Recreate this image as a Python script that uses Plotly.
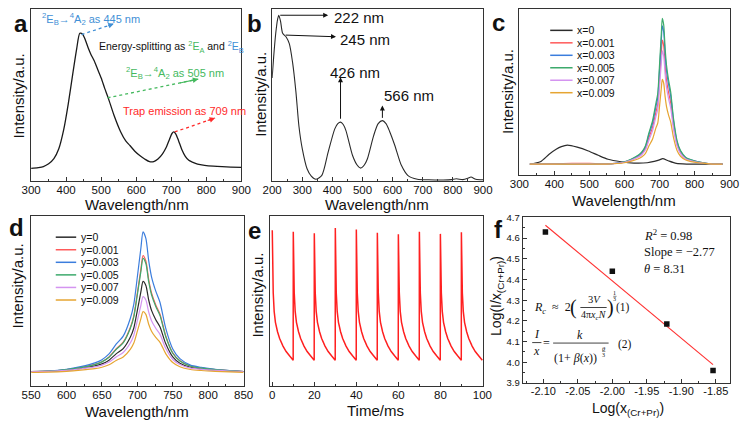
import plotly.graph_objects as go

W, H = 750, 426

# ---------------- data ----------------
# (a) emission spectrum
a_wavelength = [300, 320, 335, 350, 365, 379, 393, 406, 420, 430, 439, 447, 455, 463, 471, 480, 490, 500, 510, 520,
                536, 555, 570, 582, 596, 610, 624, 638, 650, 662, 675, 685, 695, 702, 707, 713, 721, 730, 740, 750,
                760, 775, 795, 820, 845, 870, 900]
a_intensity = [7.5, 8.0, 8.6, 10.2, 13.2, 18.9, 30, 45, 64, 77, 86, 85.5, 82, 77.5, 73.6, 70, 65, 60, 54, 48.5,
               38.7, 29, 23.5, 20.8, 17.5, 15, 13, 11.4, 11.5, 13, 16, 19.5, 24.5, 27.8, 28.7, 27.5, 23.5, 18.5, 14.5, 12.2,
               11.2, 10.0, 9.3, 8.8, 8.5, 8.3, 8.1]

# (b) excitation spectrum
b_wavelength = [200, 205, 212, 218, 222, 228, 235, 246, 257, 268, 279, 289, 300, 316, 330, 345, 365, 386, 408, 418,
                427, 436, 445, 467, 482, 494, 506, 516, 537, 552, 566, 578, 590, 607, 629, 650, 682, 720, 768, 795,
                811, 833, 850, 860, 876, 900]
b_intensity = [60, 72, 86, 94, 96.5, 93, 86, 84, 80, 69, 52, 32, 19, 7.3, 3.0, 1.2, 3.5, 17, 30.5, 33.5,
               34.4, 33, 29.5, 15, 9.5, 7.7, 9.5, 13, 26.6, 33.5, 35.3, 33.5, 29, 21, 9.3, 3.5, 1.2, 0.9, 0.8, 1.0,
               1.5, 1.0, 1.8, 2.5, 1.2, 0.9]

# (c) spectra vs x
c_black_wavelength = [330, 360, 385, 405, 420, 437, 465, 497, 525, 553, 590, 627, 665, 685, 700, 709, 725, 748, 780, 880]
c_x0 = [6.5, 7.9, 12.4, 15.4, 17.0, 17.9, 16.7, 14.4, 11.8, 9.4, 7.9, 7.1, 7.3, 8.1, 9.0, 9.8, 8.5, 6.9, 6.5, 6.5]
c_wavelength = [330, 400, 450, 500, 550, 600, 620, 640, 650, 660, 670, 680, 690, 695, 700, 705, 708, 712, 716, 720,
                726, 732, 740, 750, 760, 775, 790, 810, 830, 850, 880]
c_x0001 = [6.5, 6.8, 7.0, 6.9, 6.6, 7.7, 9.1, 11.1, 12.9, 15.9, 22.5, 28.5, 38.0, 42.6, 57.2, 72.7, 81.3, 77.9, 65.9, 57.2,
           49.5, 43.5, 29.8, 18.5, 13.4, 9.9, 8.7, 7.7, 7.0, 6.5, 6.5]
c_x0003 = [6.5, 6.5, 6.5, 6.5, 6.5, 7.8, 9.4, 11.7, 13.6, 17.0, 24.5, 31.0, 41.5, 46.8, 63.1, 80.4, 90.0, 86.2, 72.8, 63.1,
           54.5, 47.7, 32.5, 19.9, 14.2, 10.3, 9.0, 7.8, 7.1, 6.5, 6.5]
c_x0005 = [6.5, 6.5, 6.5, 6.6, 6.5, 7.9, 9.6, 12.0, 14.0, 17.6, 25.5, 32.5, 43.5, 49.0, 66.2, 84.4, 94.5, 90.5, 76.4, 66.2,
           57.1, 50.0, 33.9, 20.7, 14.6, 10.5, 9.1, 7.9, 7.1, 6.5, 6.5]
c_x0007 = [6.5, 6.5, 6.6, 6.6, 6.5, 7.6, 8.9, 10.7, 12.3, 15.1, 21.0, 26.5, 35.5, 39.5, 52.8, 66.9, 74.8, 71.7, 60.7, 52.8,
           45.8, 40.2, 27.7, 17.5, 12.8, 9.6, 8.5, 7.6, 7.0, 6.5, 6.5]
c_x0009 = [6.5, 6.5, 6.5, 6.5, 6.5, 7.3, 8.3, 9.7, 10.9, 13.0, 17.5, 21.5, 28.5, 31.2, 41.2, 51.8, 57.7, 55.3, 47.2, 41.2,
           35.9, 31.8, 22.4, 14.7, 11.2, 8.9, 8.0, 7.3, 6.9, 6.5, 6.5]
c_labels = ["x=0", "x=0.001", "x=0.003", "x=0.005", "x=0.007", "x=0.009"]

# (d) spectra vs y
d_wavelength = [550, 575, 600, 620, 640, 650, 660, 670, 680, 690, 695, 700, 705, 708, 712, 716, 720, 726, 732, 740,
                750, 760, 775, 790, 810, 830, 850]
d_y0 = [8.5, 8.6, 9.3, 10.4, 11.8, 13.0, 15.2, 18.9, 22.0, 28.7, 34.2, 44.6, 55.6, 61.7, 59.3, 50.7, 44.6, 39.1, 34.8, 25.0,
        17.1, 13.4, 11.0, 10.1, 9.3, 8.9, 8.5]
d_y0001 = [8.5, 8.7, 9.6, 10.9, 12.7, 14.3, 17.1, 21.9, 25.8, 34.5, 41.5, 54.9, 69.0, 76.9, 73.7, 62.8, 54.9, 47.8, 42.3, 29.7,
           19.5, 14.8, 11.7, 10.6, 9.6, 9.0, 8.5]
d_y0003 = [8.5, 8.7, 9.8, 11.4, 13.6, 15.5, 18.9, 24.6, 29.4, 39.8, 48.3, 64.4, 81.4, 90.9, 87.1, 73.9, 64.4, 55.9, 49.2, 34.1,
           21.8, 16.1, 12.3, 11.0, 9.8, 9.1, 8.5]
d_y0005 = [8.5, 8.7, 9.6, 10.8, 12.6, 14.2, 16.9, 21.5, 25.4, 33.9, 40.7, 53.8, 67.5, 75.2, 72.2, 61.5, 53.8, 46.9, 41.5, 29.2,
           19.3, 14.7, 11.6, 10.5, 9.6, 9.0, 8.5]
d_y0007 = [8.5, 8.6, 9.2, 10.1, 11.2, 12.3, 14.1, 17.1, 19.7, 25.3, 29.9, 38.5, 47.6, 52.7, 50.7, 43.6, 38.5, 34.0, 30.4, 22.2,
           15.6, 12.6, 10.5, 9.8, 9.2, 8.8, 8.5]
d_y0009 = [8.0, 8.1, 8.6, 9.3, 10.2, 11.0, 12.5, 15.0, 17.1, 21.6, 25.3, 32.3, 39.7, 43.8, 42.2, 36.4, 32.3, 28.6, 25.7, 19.1,
           13.8, 11.3, 9.7, 9.1, 8.6, 8.3, 8.0]
d_labels = ["y=0", "y=0.001", "y=0.003", "y=0.005", "y=0.007", "y=0.009"]

# (e) periodic decay curves
e_pulse_times = [0, 10, 20, 30, 40, 50, 60, 70, 80, 90]
e_pulse_peaks = [91.9, 91.0, 90.0, 93.2, 92.3, 90.4, 89.5, 91.0, 89.7, 90.6]
e_decay_t = [0.15, 0.45, 0.9, 1.5, 2.5, 3.5, 5.1, 6.6, 8.2, 9.7, 9.95]
e_decay_vals = [74, 55, 44, 37.5, 32, 28, 23.5, 20.3, 17.8, 15.6, 15.2]

# (f) log-log fit
f_log_x = [-2.097, -2.0, -1.921, -1.854]
f_log_ix = [4.63, 4.44, 4.185, 3.96]
f_fit_x = [-2.097, -1.854]
f_fit_y = [4.662, 3.989]
f_xticks = [-2.10, -2.05, -2.00, -1.95, -1.90, -1.85]
f_xticklabels = ["-2.10", "-2.05", "-2.00", "-1.95", "-1.90", "-1.85"]

# ---------------- style ----------------
SANS = "Liberation Sans, Arial, sans-serif"
SERIF = "Liberation Serif, Times New Roman, serif"
INK = "#111111"
AXC = "#333333"
series_colors = ["#2b2b2b", "#ff5a5a", "#3b7ddd", "#3daa6c", "#d494f0", "#e6a532"]

def px(x):
    return x / W

def py(y):
    return 1 - y / H

PANELS = {
    "a": (21.7, 237.7, 3.3, 180),
    "b": (269.3, 486, 3.3, 180),
    "c": (523.3, 739.3, 3.3, 173.3),
    "d": (21.7, 240, 216, 390),
    "e": (267.3, 486, 216, 390),
    "f": (526.7, 739.3, 217, 387),
}

def dom(p):
    l, r, t, b = PANELS[p]
    return [px(l), px(r)], [py(b), py(t)]

ann = []
shp = []

def text(t, x, y, size=11, color=INK, family=SANS, xanchor="center", yanchor="middle", angle=0):
    ann.append(dict(text=t, x=px(x), y=py(y), xref="paper", yref="paper", showarrow=False, borderpad=0,
                    font=dict(family=family, size=size, color=color), xanchor=xanchor, yanchor=yanchor,
                    textangle=angle))

def pline(x0, y0, x1, y1, color=INK, width=0.8):
    shp.append(dict(type="line", xref="paper", yref="paper", x0=px(x0), y0=py(y0), x1=px(x1), y1=py(y1),
                    line=dict(color=color, width=width)))

def arrow(xr, yr, tail, head, color, width=1.0, dotted=False):
    if dotted:
        shp.append(dict(type="line", xref=xr, yref=yr, x0=tail[0], y0=tail[1], x1=head[0], y1=head[1],
                        line=dict(color=color, width=1.3, dash="dot")))
        tail = (head[0] + 0.22 * (tail[0] - head[0]), head[1] + 0.22 * (tail[1] - head[1]))
    ann.append(dict(text="", x=head[0], y=head[1], ax=tail[0], ay=tail[1], xref=xr, yref=yr, axref=xr, ayref=yr,
                    showarrow=True, arrowhead=2, arrowsize=1, arrowwidth=width, arrowcolor=color,
                    standoff=0, startstandoff=0))

fig = go.Figure()

# panel a
fig.add_trace(go.Scatter(x=a_wavelength, y=a_intensity, mode="lines", xaxis="x", yaxis="y",
                         line=dict(color="#1a1a1a", width=1.3, shape="spline", smoothing=0.7), showlegend=False))
# panel b
fig.add_trace(go.Scatter(x=b_wavelength, y=b_intensity, mode="lines", xaxis="x2", yaxis="y2",
                         line=dict(color="#2a2a2a", width=1.1, shape="spline", smoothing=0.7), showlegend=False))
# panel c
c_series = [c_x0001, c_x0003, c_x0005, c_x0007, c_x0009]
fig.add_trace(go.Scatter(x=c_black_wavelength, y=c_x0, mode="lines", xaxis="x3", yaxis="y3",
                         line=dict(color=series_colors[0], width=1.2, shape="spline", smoothing=0.7), showlegend=False))
for vals, col in zip(c_series, series_colors[1:]):
    fig.add_trace(go.Scatter(x=c_wavelength, y=vals, mode="lines", xaxis="x3", yaxis="y3",
                             line=dict(color=col, width=1.2, shape="spline", smoothing=0.7), showlegend=False))
# panel d
d_series = [d_y0, d_y0001, d_y0003, d_y0005, d_y0007, d_y0009]
for vals, col in zip(d_series, series_colors):
    fig.add_trace(go.Scatter(x=d_wavelength, y=vals, mode="lines", xaxis="x4", yaxis="y4",
                             line=dict(color=col, width=1.2, shape="spline", smoothing=0.7), showlegend=False))
# panel e
e_time, e_int = [], []
for T, P in zip(e_pulse_times, e_pulse_peaks):
    e_time.append(T)
    e_int.append(P)
    for dt, v in zip(e_decay_t, e_decay_vals):
        e_time.append(T + dt)
        e_int.append(v)
fig.add_trace(go.Scatter(x=e_time, y=e_int, mode="lines", xaxis="x5", yaxis="y5",
                         line=dict(color="#ff2020", width=1.5), showlegend=False))
# panel f
fig.add_trace(go.Scatter(x=f_fit_x, y=f_fit_y, mode="lines", xaxis="x6", yaxis="y6",
                         line=dict(color="#ff3030", width=1.1), showlegend=False))
fig.add_trace(go.Scatter(x=f_log_x, y=f_log_ix, mode="markers", xaxis="x6", yaxis="y6",
                         marker=dict(symbol="square", size=5.5, color="#111111"), showlegend=False))

common = dict(showline=True, mirror=True, linecolor=AXC, linewidth=1, ticks="inside", ticklen=4, tickwidth=1,
              tickcolor=AXC, showgrid=False, zeroline=False,
              tickfont=dict(family=SANS, size=11.5, color=INK))

def xaxis(p, anchor, rng, dtick, tick0, minor_dtick, **kw):
    d = dict(common)
    d.update(domain=dom(p)[0], anchor=anchor, range=rng, dtick=dtick, tick0=tick0, ticklabelstandoff=-2,
             minor=dict(dtick=minor_dtick, tick0=tick0, ticks="inside", ticklen=2, tickwidth=1, tickcolor=AXC,
                        showgrid=False))
    d.update(kw)
    return d

def yaxis_plain(p, anchor, rng):
    d = dict(common)
    d.update(domain=dom(p)[1], anchor=anchor, range=rng, ticks="", showticklabels=False)
    return d

layout = dict(
    width=W, height=H, autosize=False, margin=dict(l=0, r=0, t=0, b=0),
    paper_bgcolor="white", plot_bgcolor="white", showlegend=False,
    xaxis=xaxis("a", "y", [300, 900], 100, 300, 50),
    yaxis=yaxis_plain("a", "x", [0, 100]),
    xaxis2=xaxis("b", "y2", [200, 900], 100, 200, 50),
    yaxis2=yaxis_plain("b", "x2", [0, 100]),
    xaxis3=xaxis("c", "y3", [300, 900], 100, 300, 50),
    yaxis3=yaxis_plain("c", "x3", [0, 100]),
    xaxis4=xaxis("d", "y4", [550, 850], 50, 550, 25),
    yaxis4=yaxis_plain("d", "x4", [0, 100]),
    xaxis5=xaxis("e", "y5", [-1, 100.3], 20, 0, 10),
    yaxis5=yaxis_plain("e", "x5", [0, 100]),
    xaxis6=xaxis("f", "y6", [-2.13, -1.83], None, -2.10, 0.025, tickmode="array", tickvals=f_xticks,
                 ticktext=f_xticklabels, tickfont=dict(family=SANS, size=11, color=INK)),
)
yf = dict(common)
yf.update(domain=dom("f")[1], anchor="x6", range=[3.9, 4.7], dtick=0.1, tick0=3.9, tickformat=".1f",
          tickfont=dict(family=SANS, size=9.5, color=INK),
          minor=dict(dtick=0.05, tick0=3.9, ticks="inside", ticklen=2, tickwidth=1, tickcolor=AXC, showgrid=False))
layout["yaxis6"] = yf

# ---------- axis titles ----------
text("Intensity/a.u.", 9, 92, size=15, angle=-90)
text("Wavelength/nm", 130, 204, size=15)
text("Intensity/a.u.", 258, 91, size=15, angle=-90)
text("Wavelength/nm", 377, 204, size=15)
text("Intensity/a.u.", 511, 88, size=15, angle=-90)
text("Wavelength/nm", 631, 200, size=15)
text("Intensity/a.u.", 8, 287, size=15, angle=-90)
text("Wavelength/nm", 130, 416, size=15)
text("Intensity/a.u.", 254, 297, size=15, angle=-90)
text("Time/ms", 376, 415, size=15)
text("Log(I/x<sub>(Cr+Pr)</sub>)", 501, 298, size=14, angle=-90)
text("Log(x<sub>(Cr+Pr)</sub>)", 635, 414, size=14)

# ---------- panel letters ----------
for letter, x, base in [("a", 11, 26), ("b", 251.5, 26), ("c", 502, 25), ("d", 7, 235), ("e", 251, 238), ("f", 502, 237)]:
    text("<b>%s</b>" % letter, x, base - 8, size=24)

# ---------- panel a annotations ----------
BLUE, GREEN, RED = "#3f8fd6", "#45b95e", "#ff2a2a"
text("<sup>2</sup>E<sub>B</sub>→<sup>4</sup>A<sub>2</sub> as 445 nm", 31.5, 13, size=11, color=BLUE, xanchor="left")
text("Energy-splitting as <span style='color:%s'><sup>2</sup>E<sub>A</sub></span> and "
     "<span style='color:%s'><sup>2</sup>E<sub>B</sub></span>" % (GREEN, BLUE), 90, 42, size=10.5, xanchor="left")
text("<sup>2</sup>E<sub>B</sub>→<sup>4</sup>A<sub>2</sub> as 505 nm", 118, 69, size=11, color=GREEN, xanchor="left")
text("Trap emission as 709 nm", 115, 108, size=11, color=RED, xanchor="left")
arrow("x", "y", (444, 85.3), (536, 91.5), BLUE, 1.1, dotted=True)
arrow("x", "y", (518, 48.5), (777, 59.4), GREEN, 1.1, dotted=True)
arrow("x", "y", (710, 28.7), (825, 36.8), RED, 1.1, dotted=True)

# ---------- panel b annotations ----------
arrow("x2", "y2", (222, 96.5), (386, 96.5), "#111111", 1.0)
arrow("x2", "y2", (240, 85), (412, 84), "#111111", 1.0)
arrow("x2", "y2", (427, 35.5), (427, 60.5), "#111111", 1.0)
arrow("x2", "y2", (566, 36), (566, 44), "#111111", 1.0)
text("222 nm", 332, 12, size=15, xanchor="left")
text("245 nm", 338, 34, size=15, xanchor="left")
text("426 nm", 328, 68, size=15, xanchor="left")
text("566 nm", 383, 92, size=15, xanchor="left")

# ---------- legends (c, d) ----------
def manual_legend(labels, x0, x1, xt, y0, dy):
    for i, (lab, col) in enumerate(zip(labels, series_colors)):
        yy = y0 + i * dy
        pline(x0, yy, x1, yy, color=col, width=1.5)
        text(lab, xt, yy, size=10.5, xanchor="left")

manual_legend(c_labels, 555, 578, 581, 25, 12.8)
manual_legend(d_labels, 47, 68, 72, 237.3, 12.9)

# ---------- panel f texts ----------
text("<i>R</i><sup>2</sup> = 0.98", 650, 235, size=12.5, family=SERIF, xanchor="left")
text("Slope = −2.77", 650, 252.5, size=12.5, family=SERIF, xanchor="left")
text("<i>θ</i> = 8.31", 650, 270, size=12.5, family=SERIF, xanchor="left")
# equation (1)
text("<i>R</i><sub><i>c</i></sub>  ≈  2", 537, 310, size=12, family=SERIF, xanchor="left")
text("(", 578.5, 309.5, size=20, family=SERIF)
text(")", 617, 309.5, size=20, family=SERIF)
text("3<i>V</i>", 600, 301.5, size=10.5, family=SERIF)
pline(586, 309.5, 613, 309.5, width=0.8)
text("4π<i>x</i><sub><i>c</i></sub><i>N</i>", 599.5, 318, size=10, family=SERIF)
text("1", 621.5, 295, size=6, family=SERIF)
pline(619.8, 298, 623.2, 298, width=0.5)
text("3", 621.5, 301, size=6, family=SERIF)
text("(1)", 630, 310, size=11.5, family=SERIF)
# equation (2)
text("<i>I</i>", 541, 337, size=12, family=SERIF)
pline(536.5, 345.5, 546, 345.5, width=0.8)
text("<i>x</i>", 541, 354, size=12, family=SERIF)
text("=", 551, 346, size=12, family=SERIF)
text("<i>k</i>", 586, 338, size=12, family=SERIF)
pline(558, 346, 615, 346, width=0.8)
text("(1+ <i>β</i>(<i>x</i>))", 581, 361, size=12, family=SERIF)
text("<i>θ</i>", 610, 351.5, size=6.5, family=SERIF)
pline(608.3, 354.5, 611.7, 354.5, width=0.5)
text("3", 610, 358, size=6, family=SERIF)
text("(2)", 632, 347, size=11.5, family=SERIF)

layout["annotations"] = ann
layout["shapes"] = shp
fig.update_layout(**layout)
fig.write_html("out.html", config={"displayModeBar": False},
               post_script="document.body.style.margin='0px';")
